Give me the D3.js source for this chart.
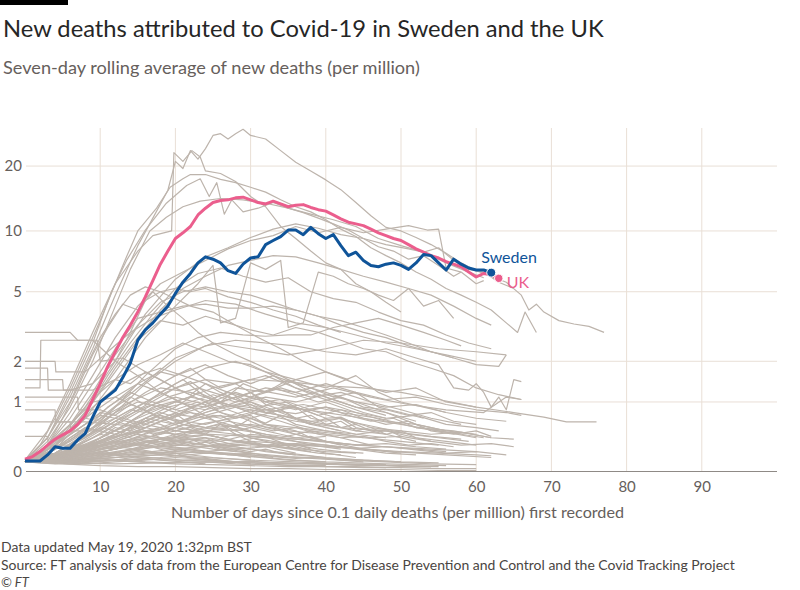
<!DOCTYPE html>
<html><head><meta charset="utf-8">
<script src="https://cdn.jsdelivr.net/npm/d3@7"></script>
<style>
html,body{margin:0;padding:0;background:#fff;}
svg{display:block;font-family:Lato,"Noto Sans",sans-serif;}
</style></head>
<body>
<svg id="chart" width="800" height="590"></svg>
<script>
// ---------- DATA ----------
const yTicks = [0, 1, 2, 5, 10, 20];
const xTicks = [10, 20, 30, 40, 50, 60, 70, 80, 90];

// UK: seven-day average per million, day 0 .. 63
const ukValues = [0.13,0.16,0.22,0.3,0.38,0.44,0.5,0.6,0.75,1.05,1.4,1.85,2.3,2.8,3.3,3.9,4.7,5.7,6.9,8.0,
  9.2,9.8,10.5,11.9,12.8,13.6,13.9,14.0,14.3,14.4,14.0,13.6,13.4,13.8,13.4,13.0,13.2,13.3,12.9,12.6,
  12.4,11.9,11.4,11.0,10.8,10.6,10.2,9.8,9.5,9.2,9.0,8.6,8.2,7.9,7.6,7.4,7.1,6.9,6.7,6.3,
  5.95,6.2,6.1,5.86];

// Sweden: day 0 .. 62
const swedenValues = [0.11,0.11,0.11,0.18,0.28,0.26,0.26,0.37,0.46,0.72,1.0,1.12,1.25,1.55,1.94,2.7,3.1,3.4,3.8,4.2,
  4.9,5.6,6.2,7.0,7.5,7.3,7.0,6.4,6.2,6.9,7.4,7.5,8.6,9.0,9.4,10.1,10.1,9.6,10.4,9.7,
  9.2,9.6,8.5,7.6,7.9,7.2,6.8,6.7,6.9,7.0,6.8,6.5,7.0,7.7,7.6,7.0,6.45,7.3,6.9,6.6,
  6.45,6.45,6.26];

// Other countries / states: [day, value] pairs
const greySeries = [
  [[0,0.12],[3,0.4],[6,1.1],[9,2.4],[12,4.8],[15,8.5],[17,11.5],[19,15.5],[20,21],[21,19.5],[22,23.5],[23,21.5],[24,24],[25,27.5],[26,28],[27,26.5],[28,28],[29,29.3],[30,27.5],[32,26.5],[34,23.5],[36,20.8],[38,19],[40,17.3],[42,15.6],[44,13.6],[46,11.8],[48,10.4],[50,10],[52,9.3],[54,8.6],[56,7.8],[58,7.0],[60,6.4],[62,6.0],[64,5.6],[66,4.8],[67,4.0],[68,4.3],[69,3.9],[71,3.5],[73,3.35],[75,3.25],[77,3.0]],
  [[0,0.1],[2,0.3],[4,0.7],[6,1.3],[8,2.2],[10,3.5],[12,5.5],[13.5,7.5],[15,10],[17.5,12.8],[19.3,16],[21,17.5],[22,18.3],[24,18.3],[26,17.4],[28,16.8],[30,16],[32,15.2],[34,14],[36,13],[38,12.3],[40,11.3],[42,10.2],[44,9.4],[46,8.3],[48,7.6],[50,7.0],[52,6.3],[54,5.8],[56,5.2],[58,4.8],[60,4.4],[62,4.0],[64,3.4],[65.5,3.0],[66.5,3.9],[68,3.0]],
  [[0,0.1],[3,0.4],[6,1.2],[9,2.6],[11.5,5],[13.5,7.2],[16,10.1],[18.8,13.5],[21.5,16.3],[23.3,17.5],[24.5,14.5],[25.5,16.8],[26.5,12],[27.5,14],[29,12.3],[31,12.8],[33,13.6],[35,12.8],[37,12.2],[39,11.5],[41,10.8],[43,10.1],[45,9.2],[47,8.4],[49,8.0],[51,7.3],[53,7.6],[55,6.8],[57,6.0],[58,6.3]],
  [[0,0.12],[3,0.5],[6,1.4],[9,3],[12,5.5],[15,8],[17,9.5],[19.5,10],[19.8,23],[21,21],[22.2,23.5],[23.3,22],[24,19],[26,18.5],[28,17],[30,14.5],[32,13],[34,10.5],[36,9.2],[38,8.0],[40,7.0],[42,6.5],[44,5.5],[46,5.0],[48,4.4],[50,3.9]],
  [[0,0.1],[3,0.35],[6,0.9],[9,2],[12,4.2],[14,6.5],[16.6,10],[18.8,11.6],[21,13],[23.3,13.8],[26,14.2],[29,14],[32,13.5],[35,12.8],[38,12],[41,11.3],[44,10.5],[47,9.2],[50,8.5],[53,7.9],[56,7.0],[59,6.3],[61,5.9]],
  [[0,0.1],[4,0.3],[8,0.9],[12,2],[16,3.8],[20,5.8],[24,7.5],[27,8.3],[30,9.3],[33,10.2],[36,10.8],[39,10.3],[42,9.6],[45,9.2],[48,8.6],[51,8.2],[53,7.9],[55,8.3],[57,7.2],[59,6.5],[61,6.3],[63,5.6],[65,5.2]],
  [[0,0.1],[3,0.3],[6,0.8],[9,1.6],[12,2.8],[15,4.2],[18,5.5],[21,6.3],[24,7.2],[27,8.2],[30,9],[33,9.5],[36,10.5],[39,9.8],[42,10.4],[45,9.8],[48,10.2],[51,10.6],[53.5,10.1],[55,10.2],[56,6.6],[58,6.3],[60,5.5],[61,5.7]],
  [[0,0.1],[3,0.2],[6,0.5],[9,1.0],[12,1.8],[15,2.8],[18,4],[21,5.2],[24,6.0],[27,6.8],[30,7.2],[33,7.6],[36,7.5],[39,7.0],[42,6.5],[45,6.0],[48,5.6],[51,5.2],[54,4.8],[57,4.2],[60,3.6],[62,3.3]],
  [[0,3.0],[6,3.0],[7,2.7],[9,2.7],[12,2.0],[15,1.6],[18,1.2],[22,0.9],[26,0.6],[30,0.5],[35,0.3],[40,0.2],[44,0.15]],
  [[0,1.3],[2,1.3],[2.1,2.7],[9.6,2.7],[10,2.0],[13,2.1],[16,1.7],[20,1.3],[24,1.0],[28,0.8],[32,0.6],[36,0.45],[40,0.35],[45,0.25],[50,0.2]],
  [[0,2.0],[4,2.0],[4.1,1.7],[8,1.7],[11,2.3],[14,3],[17,3.6],[20,4.0],[24,4.5],[28,4.3],[32,3.8],[36,3.4],[40,3.2],[44,2.9],[48,2.6],[52,2.4],[56,2.2],[60,2.0]],
  [[0,1.5],[5,1.5],[5.1,1.25],[9,1.25],[12,1.5],[15,1.9],[18,2.2],[21,2.6],[24,2.3],[27,2.0],[30,1.9],[33,1.6],[36,1.4],[40,1.2],[44,1.0],[48,0.8],[52,0.65]],
  [[0,1.1],[7,1.1],[7.1,0.85],[10,0.85],[13,0.7],[16,0.6],[20,0.5],[24,0.45],[28,0.35],[32,0.3],[36,0.25]],
  [[0,0.85],[4,0.85],[4.1,0.64],[8,0.64],[12,0.6],[16,0.55],[20,0.45],[24,0.4],[28,0.3]],
  [[0,0.64],[6,0.64],[6.1,0.5],[10,0.5],[14,0.4],[18,0.3],[22,0.25],[26,0.2],[30,0.15]],
  [[0,0.42],[3,0.42],[3.1,0.3],[8,0.3],[12,0.35],[16,0.3],[20,0.2],[25,0.15],[30,0.12]],
  [[0,1.8],[3,1.8],[3.1,1.25],[6,1.25],[9,1.4],[12,2.0],[14,3],[16,4.5],[18,5.0],[20,5.2],[22,5.0],[24,5.2],[27,4.7],[30,4.4],[33,4.0],[36,3.7],[39,3.3],[42,3.0]],
  [[0,0.1],[3,0.25],[6,0.6],[9,1.2],[12,2.2],[15,3.3],[18,4.4],[21,5.0],[24,5.3],[27,5.0],[30,4.8],[33,4.4],[36,4.0],[39,3.7],[42,3.5],[45,3.2],[48,2.9],[51,2.6],[54,2.3],[57,2.1]],
  [[0,0.1],[4,0.3],[8,0.8],[11,1.6],[14,2.6],[17,3.8],[20,5.2],[23,6.2],[26,6.6],[29,6.0],[32,5.6],[35,5.9],[38,5.0],[41,4.6],[44,4.4],[47,3.9],[50,3.5],[53,3.3],[56,2.9],[59,2.6],[62,2.4]],
  [[0,0.1],[4,0.25],[8,0.7],[12,1.5],[16,2.8],[20,4.2],[23,5.5],[25,6.8],[26,3.4],[28,3.6],[30,7.0],[32,6.5],[34,7.2],[35,3.2],[37,3.4],[39,6.3],[41,6.0],[43,5.5],[45,5.2],[47,4.8],[49,4.5],[51,5.2],[53,4.2],[55,4.5],[57,3.6]],
  [[0,0.1],[4,0.2],[8,0.45],[12,0.9],[16,1.6],[20,2.4],[23,2.8],[26,3.0],[29,2.9],[32,2.85],[35,2.9],[38,2.9],[41,3.2],[44,3.4],[47,3.6],[50,3.3],[53,3.0],[56,2.7],[58,2.5]],
  [[0,0.1],[3,0.3],[6,0.7],[9,1.4],[12,2.4],[15,3.6],[18,3.9],[21,4.2],[24,4.3],[27,4.1],[30,4.1],[33,4.2],[36,4.0],[39,3.7],[42,3.3],[45,3.0],[48,2.8],[51,2.5],[54,2.3],[57,2.1],[60,1.9],[63,1.85],[64,2.2]],
  [[0,0.1],[4,0.2],[8,0.4],[12,0.8],[16,1.4],[20,2.0],[24,2.5],[28,2.7],[32,2.6],[36,2.5],[40,2.3],[44,2.2],[48,2.4],[52,2.1],[55,1.9],[57,1.3],[59,1.25],[60,1.4],[61,1.2],[62,0.9],[63,1.1],[64,0.85],[65,1.5],[66,1.45]],
  [[0,0.1],[5,0.3],[10,0.7],[15,1.3],[20,2.1],[25,2.6],[30,2.4],[35,2.2],[40,2.4],[45,2.7],[50,2.6],[55,2.4],[60,2.3],[64,2.2]],
  [[0,0.12],[3,0.4],[6,1.0],[8,1.8],[10,2.8],[12,3.8],[14,4.8],[16,5.3],[18,5.0],[20,4.6],[22,4.2],[25,3.9],[28,3.3],[31,2.8],[34,2.4],[37,2.0],[40,1.7],[43,1.5]],
  [[0,0.1],[3,0.3],[5,0.7],[7,1.3],[9,2.2],[11,3.2],[13,4.3],[15,4.0],[17,5.0],[19,4.2],[21,3.6],[23,3.0],[25,2.6],[28,2.2],[31,1.9],[34,1.6],[37,1.3],[40,1.1],[44,0.9],[48,0.75]],
  [[0,0.1],[4,0.3],[8,0.8],[12,1.7],[15,2.7],[18,3.5],[21,3.3],[24,3.7],[27,3.4],[30,3.1],[33,2.9],[36,3.2],[39,3.0],[42,2.7],[45,2.4],[48,2.3],[51,2.0],[54,1.8],[57,1.6],[60,1.3],[63,1.15],[66,1.05]],
  [[0,0.1],[4,0.2],[8,0.4],[12,0.7],[16,1.0],[20,1.3],[24,1.5],[28,1.4],[32,1.6],[36,1.3],[40,1.1],[44,0.9],[48,0.8],[52,0.6],[56,0.5]],
  [[0,0.1],[5,0.15],[10,0.35],[15,0.6],[20,0.9],[23,1.2],[26,1.0],[29,1.4],[32,1.2],[35,1.5],[38,1.3],[41,1.1],[44,1.2],[47,0.9],[50,0.8],[53,0.7]],
  [[0,0.1],[3,0.2],[6,0.5],[9,0.9],[12,1.3],[15,1.6],[18,1.8],[21,1.6],[24,1.4],[27,1.2],[30,1.0],[33,0.85],[36,0.7],[40,0.55],[44,0.45],[48,0.4]],
  [[0,0.1],[6,0.2],[12,0.4],[18,0.7],[24,1.0],[28,1.3],[32,1.2],[36,1.5],[40,1.7],[44,1.4],[48,1.2],[52,1.3],[56,1.0],[60,0.9]],
  [[0,0.1],[4,0.3],[8,0.6],[12,1.0],[15,1.4],[18,1.2],[21,1.5],[24,1.1],[27,0.9],[30,1.0],[33,0.8],[36,0.6],[40,0.5],[45,0.4]],
  [[0,0.1],[5,0.2],[10,0.45],[15,0.8],[19,1.1],[23,1.3],[27,1.1],[31,0.9],[35,1.0],[39,0.8],[43,0.65],[47,0.55],[51,0.45],[55,0.4],[59,0.35]],
  [[0,0.1],[4,0.25],[8,0.5],[11,0.9],[14,1.2],[17,1.0],[20,0.85],[23,1.0],[26,0.8],[29,0.7],[32,0.55],[36,0.45],[40,0.35]],
  [[0,0.1],[6,0.15],[12,0.3],[18,0.55],[24,0.8],[30,1.1],[34,1.3],[38,1.1],[42,1.2],[46,1.0],[50,0.85],[54,0.7],[58,0.6]],
  [[0,0.1],[3,0.15],[6,0.3],[9,0.55],[12,0.8],[15,1.0],[18,0.9],[21,0.75],[24,0.7],[27,0.6],[30,0.5],[34,0.4],[38,0.3],[42,0.25]],
  [[0,0.1],[5,0.2],[10,0.5],[15,0.9],[20,1.4],[24,1.8],[28,2.0],[32,1.7],[36,1.5],[40,1.3],[44,1.6],[47,1.2],[50,1.0],[53,0.9],[56,0.8]],
  [[0,0.1],[4,0.15],[8,0.3],[12,0.5],[16,0.7],[20,0.6],[24,0.75],[28,0.9],[32,0.8],[36,0.7],[40,0.6],[44,0.5],[48,0.45],[52,0.35]],
  [[0,0.1],[6,0.2],[12,0.5],[17,0.9],[22,1.1],[27,0.95],[32,0.85],[37,0.95],[42,0.8],[47,0.7],[52,0.55],[57,0.5],[62,0.4]],
  [[0,0.1],[3,0.3],[6,0.6],[9,1.0],[12,1.1],[15,0.9],[18,0.7],[21,0.55],[24,0.45],[28,0.35],[32,0.28],[36,0.2]],
  [[0,0.1],[5,0.2],[10,0.4],[15,0.7],[20,1.0],[25,1.3],[30,1.5],[35,1.45],[40,1.35],[45,1.3],[50,1.2],[55,1.05],[60,0.9],[65,0.8],[69,0.72],[72,0.64],[76,0.64]],
  [[0,0.1],[4,0.2],[8,0.4],[12,0.65],[16,0.9],[20,1.1],[24,0.95],[28,1.2],[32,1.0],[36,0.85],[40,1.0],[44,0.8],[48,0.65],[52,0.6],[56,0.5],[60,0.45]],
  [[0,0.1],[7,0.2],[14,0.45],[20,0.75],[26,1.0],[31,1.25],[36,1.1],[41,1.3],[46,1.1],[51,0.95],[56,0.85],[61,0.8],[64,1.1],[66,1.05]],
  [[0,0.1],[3,0.2],[6,0.4],[10,0.7],[14,1.0],[18,1.3],[22,1.2],[26,1.0],[30,0.8],[34,0.65],[38,0.5],[42,0.4],[46,0.3]],
  [[0,0.1],[5,0.12],[10,0.2],[15,0.35],[20,0.55],[25,0.75],[30,0.7],[35,0.9],[40,0.8],[45,0.7],[50,0.6],[55,0.5],[60,0.4]],
  [[0,0.1],[4,0.2],[8,0.45],[12,0.8],[16,1.2],[20,1.6],[24,1.9],[27,1.6],[30,1.4],[33,1.6],[36,1.3],[39,1.1],[42,0.95],[45,0.8],[48,0.7]],
  [[0,0.1],[6,0.2],[12,0.45],[18,0.7],[24,0.6],[30,0.8],[36,0.65],[42,0.55],[48,0.5],[54,0.42],[58,0.38]],
  [[0,0.1],[5,0.12],[10,0.18],[15,0.25],[20,0.3],[25,0.28],[30,0.25],[35,0.2],[40,0.15],[45,0.12],[50,0.1]],
  [[0,0.1],[4,0.15],[8,0.22],[12,0.3],[16,0.4],[20,0.35],[24,0.3],[28,0.28],[32,0.22],[36,0.18],[40,0.15]],
  [[0,0.1],[6,0.08],[12,0.12],[18,0.15],[24,0.2],[30,0.18],[36,0.15],[42,0.12],[48,0.1],[54,0.08],[60,0.07]],
  [[0,0.1],[3,0.12],[6,0.18],[9,0.25],[12,0.35],[15,0.45],[18,0.4],[21,0.35],[24,0.3],[27,0.25],[30,0.2]],
  [[0,0.1],[5,0.1],[10,0.12],[15,0.1],[20,0.08],[25,0.07],[30,0.06],[35,0.05],[40,0.05],[45,0.04],[50,0.04],[55,0.03],[60,0.03]],
  [[0,0.1],[4,0.14],[8,0.2],[12,0.28],[16,0.35],[20,0.42],[24,0.5],[28,0.45],[32,0.4],[36,0.35],[40,0.3],[44,0.25],[48,0.2],[52,0.18]],
  [[0,0.1],[5,0.15],[10,0.2],[15,0.18],[20,0.22],[25,0.2],[30,0.16],[35,0.12],[40,0.1]],
  [[0,0.1],[7,0.12],[14,0.16],[21,0.2],[28,0.25],[35,0.3],[42,0.28],[49,0.22],[56,0.18],[62,0.15]],
  [[0,0.1],[3,0.15],[6,0.22],[9,0.3],[12,0.28],[15,0.25],[18,0.2],[21,0.16],[24,0.12],[27,0.1],[30,0.08]],
  [[0,0.1],[5,0.08],[10,0.06],[15,0.05],[20,0.05],[25,0.04],[30,0.03],[35,0.03],[40,0.02],[45,0.02],[50,0.02],[55,0.01],[60,0.01]],
  [[0,0.1],[4,0.18],[8,0.3],[12,0.42],[16,0.5],[20,0.55],[24,0.48],[28,0.52],[32,0.45],[36,0.4],[40,0.35],[44,0.3],[48,0.28],[52,0.25],[56,0.22]],
  [[0,0.1],[6,0.12],[12,0.15],[18,0.18],[24,0.15],[30,0.12],[36,0.1],[42,0.08],[48,0.07]],
  [[0,0.1],[3,0.1],[6,0.12],[9,0.15],[12,0.2],[15,0.26],[18,0.32],[21,0.38],[24,0.35],[27,0.3],[30,0.32],[33,0.28],[36,0.24],[39,0.2],[42,0.18]],
  [[0,0.1],[5,0.2],[10,0.3],[15,0.38],[20,0.32],[25,0.25],[30,0.2],[35,0.16],[40,0.14],[45,0.12],[50,0.1],[55,0.09]],
  [[0,0.1],[4,0.08],[8,0.1],[12,0.12],[16,0.1],[20,0.09],[24,0.1],[28,0.08],[32,0.07],[36,0.06],[40,0.06]],
  [[0,0.1],[6,0.15],[12,0.25],[18,0.38],[24,0.45],[30,0.42],[36,0.38],[42,0.32],[48,0.28],[54,0.25],[60,0.22]],
  [[0,0.1],[3,0.12],[6,0.15],[9,0.2],[12,0.18],[15,0.15],[18,0.12],[21,0.1],[24,0.08]],
  [[0,0.1],[5,0.12],[10,0.15],[15,0.2],[20,0.25],[25,0.3],[30,0.35],[35,0.32],[40,0.28],[45,0.25],[50,0.22],[55,0.2],[60,0.18],[62,0.17]],
  [[0,0.1],[4,0.1],[8,0.08],[12,0.1],[16,0.12],[20,0.15],[24,0.13],[28,0.1],[32,0.08],[36,0.06],[40,0.05],[44,0.05],[48,0.04]],
  [[0,0.1],[5,0.14],[10,0.22],[15,0.3],[20,0.45],[25,0.55],[30,0.6],[35,0.5],[40,0.45],[45,0.4],[50,0.35],[55,0.3]],
  [[0,0.1],[4,0.12],[8,0.16],[12,0.22],[16,0.28],[20,0.25],[24,0.2],[28,0.18],[32,0.15],[36,0.12],[40,0.1],[44,0.09],[48,0.08],[52,0.07],[56,0.06]],
  [[0,0.1],[6,0.09],[12,0.08],[18,0.09],[24,0.1],[30,0.09],[36,0.08],[42,0.07],[48,0.06],[54,0.05]],
  [[0,0.1],[3,0.14],[6,0.2],[9,0.26],[12,0.32],[15,0.3],[18,0.28],[21,0.26],[24,0.22],[27,0.2],[30,0.18],[33,0.15]],
  [[0,0.1],[5,0.1],[10,0.11],[15,0.13],[20,0.12],[25,0.11],[30,0.1],[35,0.09],[40,0.08],[45,0.07],[50,0.06],[55,0.05]],
  [[0,0.1],[4,0.16],[8,0.24],[12,0.34],[16,0.42],[20,0.38],[24,0.44],[28,0.36],[32,0.3],[36,0.26],[40,0.22],[44,0.2]],
  [[0,0.1],[2,0.15],[4,0.2],[6,0.3],[8,0.28],[10,0.4],[12,0.55],[14,0.5],[16,0.7],[18,0.8],[20,0.72],[22,0.9],[24,0.85],[26,1.0],[28,0.9],[30,0.95],[32,0.8],[34,0.85],[36,0.7],[38,0.75],[40,0.6],[42,0.65],[44,0.5],[46,0.55],[48,0.45]],
  [[0,0.1],[3,0.12],[6,0.2],[9,0.32],[12,0.45],[15,0.6],[18,0.75],[21,0.65],[24,0.85],[27,0.95],[30,0.8],[33,1.0],[36,0.9],[39,0.75],[42,0.85],[45,0.7],[48,0.6],[51,0.65],[54,0.5],[57,0.45],[60,0.5],[62,0.42]],
  [[0,0.1],[2,0.2],[4,0.35],[6,0.5],[8,0.7],[10,0.65],[12,0.9],[14,1.1],[16,0.95],[18,1.2],[20,1.05],[22,0.9],[24,1.0],[26,0.8],[28,0.7],[30,0.75],[32,0.6],[34,0.55],[36,0.5],[38,0.4],[40,0.42]],
  [[0,0.1],[4,0.1],[8,0.15],[12,0.2],[16,0.3],[20,0.4],[22,0.5],[24,0.45],[26,0.6],[28,0.55],[30,0.7],[32,0.62],[34,0.75],[36,0.68],[38,0.6],[40,0.7],[42,0.55],[44,0.6],[46,0.5],[48,0.45],[50,0.5],[52,0.4],[54,0.35]],
  [[0,0.1],[2,0.12],[4,0.18],[6,0.25],[8,0.35],[10,0.45],[12,0.4],[14,0.55],[16,0.65],[18,0.6],[20,0.5],[22,0.55],[24,0.45],[26,0.4],[28,0.45],[30,0.35],[32,0.3],[34,0.32],[36,0.25],[38,0.22]],
  [[0,0.1],[3,0.15],[6,0.25],[9,0.4],[12,0.6],[15,0.85],[18,1.1],[20,1.3],[22,1.15],[24,1.4],[26,1.2],[28,1.05],[30,1.2],[32,0.95],[34,0.85],[36,0.9],[38,0.7],[40,0.65],[42,0.7],[44,0.55],[46,0.5],[48,0.52],[50,0.42]],
  [[0,0.1],[5,0.1],[10,0.15],[14,0.22],[18,0.3],[22,0.38],[26,0.35],[30,0.45],[34,0.4],[38,0.5],[42,0.45],[46,0.4],[50,0.42],[54,0.35],[58,0.3],[62,0.32],[65,0.28]],
  [[0,0.1],[2,0.18],[4,0.3],[6,0.45],[8,0.6],[10,0.8],[12,0.75],[14,0.95],[16,0.85],[18,0.7],[20,0.78],[22,0.6],[24,0.55],[26,0.6],[28,0.45],[30,0.4],[32,0.35],[34,0.3],[36,0.32],[38,0.25]],
  [[0,0.1],[4,0.12],[8,0.2],[12,0.28],[16,0.4],[20,0.5],[24,0.62],[28,0.7],[32,0.85],[36,0.78],[40,0.9],[44,0.8],[48,0.7],[52,0.75],[56,0.6],[60,0.55],[63,0.5]],
  [[0,0.1],[3,0.2],[6,0.35],[9,0.55],[12,0.7],[15,0.6],[18,0.75],[21,0.6],[24,0.5],[27,0.55],[30,0.4],[33,0.35],[36,0.3],[39,0.25],[42,0.22],[45,0.2]],
  [[0,0.1],[2,0.1],[4,0.14],[6,0.18],[8,0.2],[10,0.28],[12,0.25],[14,0.32],[16,0.3],[18,0.38],[20,0.35],[22,0.3],[24,0.34],[26,0.28],[28,0.25],[30,0.22],[32,0.25],[34,0.2],[36,0.18]],
  [[0,0.1],[4,0.15],[8,0.25],[12,0.4],[16,0.55],[20,0.75],[24,1.0],[27,1.2],[30,1.1],[33,1.3],[36,1.15],[39,1.0],[42,1.1],[45,0.9],[48,0.85],[51,0.75],[54,0.8],[57,0.65],[60,0.6]],
  [[0,0.1],[3,0.1],[6,0.12],[9,0.15],[12,0.18],[15,0.22],[18,0.2],[21,0.25],[24,0.22],[27,0.18],[30,0.2],[33,0.16],[36,0.14],[39,0.15],[42,0.12],[45,0.1]],
  [[0,0.1],[2,0.15],[4,0.25],[6,0.4],[8,0.55],[10,0.5],[12,0.65],[14,0.58],[16,0.5],[18,0.55],[20,0.42],[22,0.38],[24,0.4],[26,0.3],[28,0.28],[30,0.25]],
  [[0,0.1],[5,0.2],[10,0.35],[13,0.5],[16,0.7],[19,0.9],[22,1.0],[25,1.15],[28,1.0],[31,1.1],[34,0.95],[37,0.85],[40,0.9],[43,0.75],[46,0.65],[49,0.7],[52,0.55],[55,0.5],[58,0.45],[61,0.4]],
  [[0,0.1],[4,0.1],[8,0.12],[12,0.15],[16,0.2],[20,0.22],[24,0.28],[28,0.3],[32,0.28],[36,0.32],[40,0.3],[44,0.26],[48,0.28],[52,0.24],[56,0.2],[60,0.22],[64,0.18]],
  [[0,0.1],[2,0.2],[4,0.4],[6,0.6],[8,0.9],[10,1.2],[12,1.5],[14,1.4],[16,1.7],[18,1.5],[20,1.3],[22,1.45],[24,1.2],[26,1.0],[28,1.1],[30,0.9],[32,0.8],[34,0.85],[36,0.7],[38,0.6],[40,0.55],[42,0.5]],
  [[0,0.1],[3,0.14],[6,0.2],[9,0.3],[12,0.42],[15,0.5],[18,0.45],[21,0.6],[24,0.55],[27,0.65],[30,0.58],[33,0.5],[36,0.55],[39,0.45],[42,0.4],[45,0.42],[48,0.35],[51,0.3],[54,0.32],[57,0.28]],
  [[0,0.1],[4,0.2],[8,0.3],[12,0.5],[16,0.8],[20,1.0],[24,0.9],[28,1.1],[32,1.3],[36,1.2],[40,1.4],[44,1.2],[48,1.05],[52,1.1],[56,0.95],[60,0.85],[64,0.8],[66,0.75]],
  [[0,0.1],[2,0.12],[4,0.15],[6,0.2],[8,0.18],[10,0.22],[12,0.2],[14,0.25],[16,0.22],[18,0.18],[20,0.2],[22,0.15],[24,0.14],[26,0.12],[28,0.1],[30,0.09]],
  [[0,0.1],[5,0.15],[10,0.3],[14,0.45],[18,0.65],[22,0.8],[26,0.7],[30,0.85],[34,0.75],[38,0.65],[42,0.7],[46,0.55],[50,0.5],[54,0.45],[58,0.48],[62,0.4],[65,0.38]],
  [[0,0.1],[3,0.25],[6,0.5],[9,0.8],[12,1.1],[14,1.3],[16,1.5],[18,1.7],[20,1.6],[22,1.8],[24,1.5],[26,1.3],[28,1.4],[30,1.2],[32,1.0],[34,1.05],[36,0.9],[38,0.8],[40,0.7],[42,0.72],[44,0.6]],
  [[0,0.1],[4,0.12],[8,0.18],[12,0.25],[16,0.35],[20,0.3],[24,0.4],[28,0.35],[32,0.42],[36,0.38],[40,0.35],[44,0.3],[48,0.32],[52,0.28],[56,0.25]],
  [[0,0.1],[2,0.14],[4,0.2],[6,0.3],[8,0.42],[10,0.55],[12,0.5],[14,0.45],[16,0.5],[18,0.4],[20,0.35],[22,0.38],[24,0.3],[26,0.25],[28,0.22]],
  [[0,0.1],[6,0.15],[12,0.3],[16,0.45],[20,0.6],[24,0.8],[28,0.95],[32,1.1],[36,1.0],[40,1.15],[44,1.0],[48,0.9],[52,0.95],[56,0.8],[60,0.7],[64,0.65]],
  [[0,0.1],[3,0.12],[6,0.1],[9,0.14],[12,0.12],[15,0.16],[18,0.14],[21,0.12],[24,0.13],[27,0.1],[30,0.11],[33,0.09],[36,0.08],[39,0.09],[42,0.07],[45,0.06],[48,0.06],[51,0.05],[54,0.05]],
  [[0,0.1],[2,0.2],[4,0.3],[6,0.45],[8,0.6],[10,0.75],[12,0.7],[14,0.85],[16,0.8],[18,0.95],[20,0.85],[22,0.8],[24,0.7],[26,0.75],[28,0.6],[30,0.55],[32,0.5],[34,0.45],[36,0.4],[38,0.42],[40,0.35],[42,0.3]],
  [[0,0.1],[4,0.15],[8,0.22],[12,0.35],[16,0.5],[20,0.45],[24,0.55],[28,0.5],[32,0.6],[36,0.55],[40,0.5],[44,0.45],[48,0.5],[52,0.4],[56,0.35],[60,0.3]]
];

const title = "New deaths attributed to Covid-19 in Sweden and the UK";
const subtitle = "Seven-day rolling average of new deaths (per million)";
const xTitle = "Number of days since 0.1 daily deaths (per million) first recorded";
const footer = ["Data updated May 19, 2020 1:32pm BST",
  "Source: FT analysis of data from the European Centre for Disease Prevention and Control and the Covid Tracking Project"];

// ---------- CHART ----------
const svg = d3.select("#chart");
const x = d3.scaleLinear().domain([0, 100]).range([25, 777]);
const y = d3.scaleSymlog().constant(1).domain([0, 30]).range([471.5, 127]);

const mid = "#66605c", grid = "#e9dfd6", greyLine = "#bdb4ac";
const blue = "#0f5499", pink = "#eb5e8d";

function fit(sel, target) {
  const n = sel.node();
  const fs = parseFloat(sel.attr("font-size"));
  const w = n.getComputedTextLength();
  sel.attr("font-size", (fs * target / w).toFixed(2));
}

svg.append("rect").attr("x", 0).attr("y", 0).attr("width", 68).attr("height", 5).attr("fill", "#000");
fit(svg.append("text").attr("x", 3).attr("y", 37).attr("font-size", 22).attr("fill", "#262626").text(title), 601);
fit(svg.append("text").attr("x", 3).attr("y", 74).attr("font-size", 16).attr("fill", mid).text(subtitle), 417);

// grid
svg.append("g").selectAll("line").data(yTicks.filter(d => d > 0)).join("line")
  .attr("x1", 26).attr("x2", 777).attr("y1", d => y(d)).attr("y2", d => y(d))
  .attr("stroke", grid).attr("stroke-width", 1);
svg.append("g").selectAll("line").data(xTicks).join("line")
  .attr("x1", d => x(d)).attr("x2", d => x(d)).attr("y1", y(30) + 1).attr("y2", y(0))
  .attr("stroke", grid).attr("stroke-width", 1);

// y labels
svg.append("g").selectAll("text").data(yTicks).join("text")
  .attr("x", 22).attr("y", d => y(d)).attr("dy", "0.35em").attr("text-anchor", "end")
  .attr("font-size", 15).attr("fill", mid).text(d => d);

// grey lines
const line = d3.line().x(d => x(d[0])).y(d => y(d[1]));
svg.append("g").selectAll("path").data(greySeries).join("path")
  .attr("d", line).attr("fill", "none").attr("stroke", greyLine).attr("stroke-width", 1.2)
  .attr("stroke-linejoin", "round");

// x axis
const xAxis = d3.axisBottom(x).tickValues(xTicks).tickSize(0).tickPadding(10);
const ga = svg.append("g").attr("transform", `translate(0,${y(0)})`).call(xAxis);
ga.select(".domain").attr("stroke", "#8f8a86").attr("d", `M26,0H777`);
ga.selectAll("text").attr("font-size", 15).attr("fill", mid).attr("font-family", "Lato,'Noto Sans',sans-serif");

// highlighted
const lineIdx = d3.line().x((d, i) => x(i)).y(d => y(d));
svg.append("path").datum(ukValues).attr("d", lineIdx).attr("fill", "none")
  .attr("stroke", pink).attr("stroke-width", 3).attr("stroke-linejoin", "round");
svg.append("path").datum(swedenValues).attr("d", lineIdx).attr("fill", "none")
  .attr("stroke", blue).attr("stroke-width", 3).attr("stroke-linejoin", "round");

const ukLast = ukValues.length - 1, swLast = swedenValues.length - 1;
svg.append("circle").attr("cx", x(ukLast)).attr("cy", y(ukValues[ukLast])).attr("r", 4.2)
  .attr("fill", pink).attr("stroke", "#fff").attr("stroke-width", 1);
svg.append("circle").attr("cx", x(swLast)).attr("cy", y(swedenValues[swLast])).attr("r", 4.5)
  .attr("fill", blue).attr("stroke", "#fff").attr("stroke-width", 1);
svg.append("text").attr("x", x(swLast) - 10).attr("y", y(swedenValues[swLast]) - 10)
  .attr("font-size", 16).attr("fill", blue).text("Sweden");
svg.append("text").attr("x", x(ukLast) + 8).attr("y", y(ukValues[ukLast]) + 10)
  .attr("font-size", 16).attr("fill", pink).text("UK");

// axis title
fit(svg.append("text").attr("x", 171).attr("y", 518).attr("font-size", 15).attr("fill", mid).text(xTitle), 453);

// footer
fit(svg.append("text").attr("x", 1).attr("y", 552).attr("font-size", 13).attr("fill", "#4a4542").text(footer[0]), 251);
fit(svg.append("text").attr("x", 1).attr("y", 570).attr("font-size", 13).attr("fill", "#4a4542").text(footer[1]), 734);
svg.append("text").attr("x", 1).attr("y", 587).attr("font-size", 13).attr("fill", "#4a4542")
  .attr("font-style", "italic").text("© FT");
</script>
</body></html>
